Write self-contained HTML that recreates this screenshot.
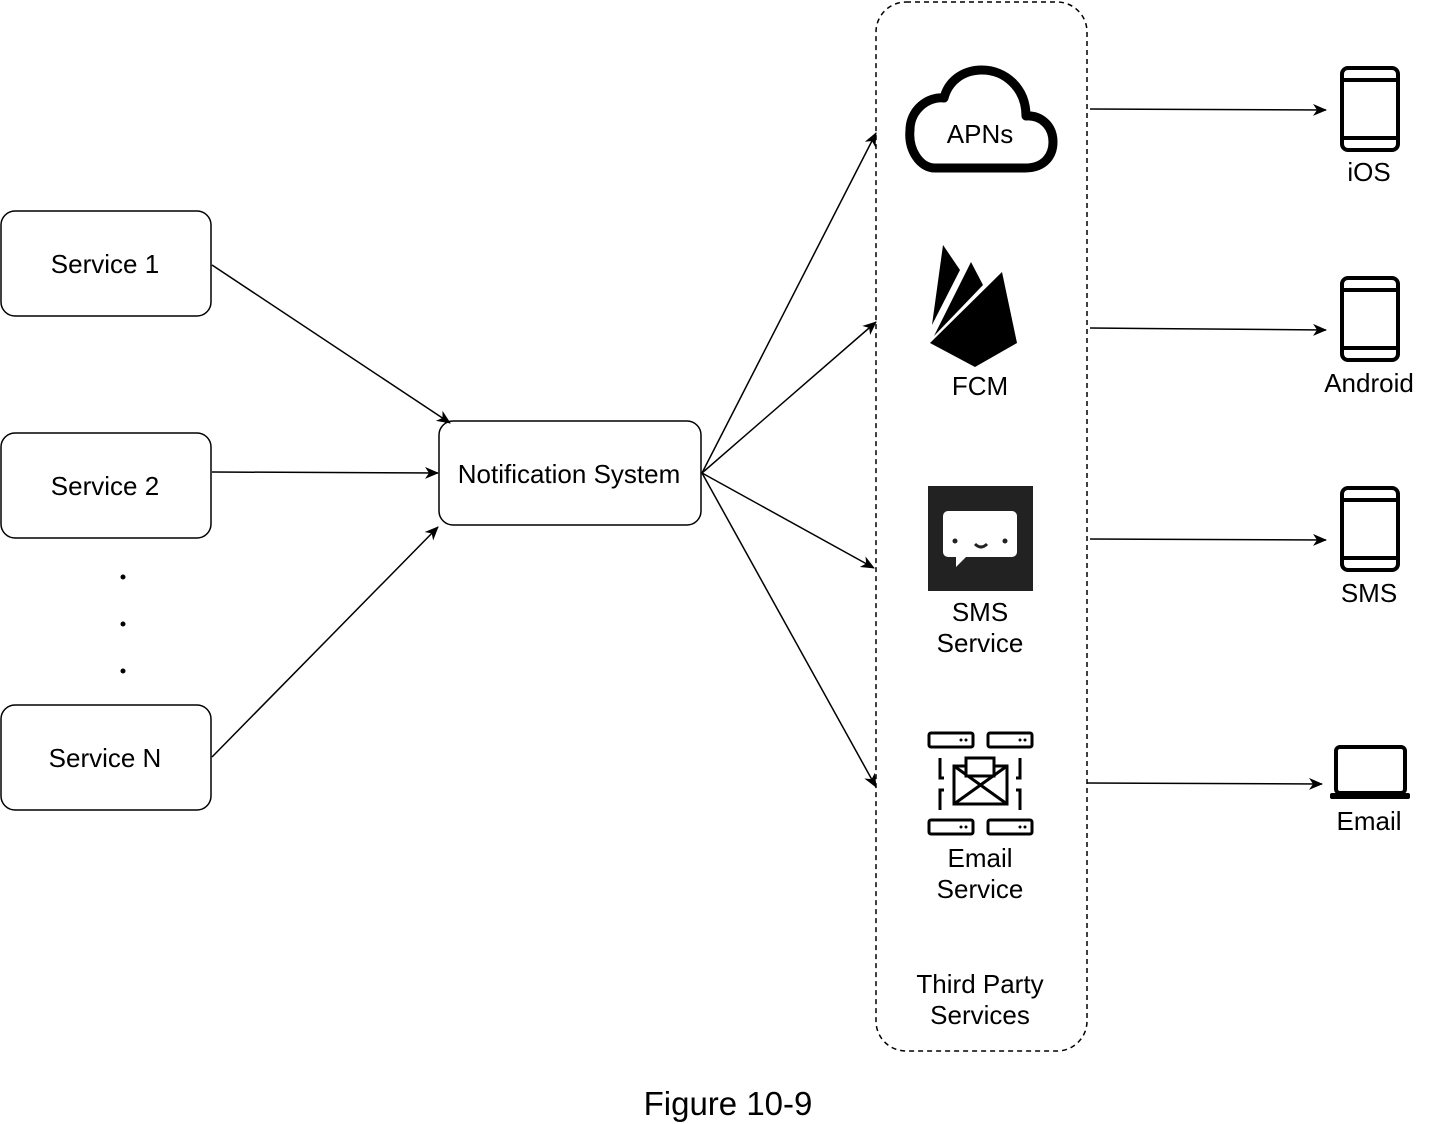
<!DOCTYPE html>
<html><head><meta charset="utf-8"><style>body{margin:0;background:#fff}svg{display:block}text{font-family:"Liberation Sans",Arial,sans-serif;fill:#000}</style></head><body>
<svg width="1429" height="1124" viewBox="0 0 1429 1124" xmlns="http://www.w3.org/2000/svg">
<defs><marker id="a" markerWidth="14" markerHeight="12" refX="13" refY="6" orient="auto" markerUnits="userSpaceOnUse"><path d="M0,0 L14,6 L0,12 L4,6 Z" fill="#000"/></marker></defs>
<g fill="none" stroke="#000" stroke-width="1.5">
<rect x="1" y="211" width="210" height="105" rx="14"/>
<rect x="1" y="433" width="210" height="105" rx="14"/>
<rect x="1" y="705" width="210" height="105" rx="14"/>
<rect x="439" y="421" width="262" height="104" rx="14"/>
<rect x="876" y="2" width="211" height="1049" rx="30" stroke-dasharray="5,4"/>
<line x1="212" y1="265" x2="450" y2="423" marker-end="url(#a)"/>
<line x1="212" y1="472" x2="438" y2="473" marker-end="url(#a)"/>
<line x1="212" y1="757" x2="438" y2="527" marker-end="url(#a)"/>
<line x1="702" y1="473" x2="876" y2="133" marker-end="url(#a)"/>
<line x1="702" y1="473" x2="876" y2="322" marker-end="url(#a)"/>
<line x1="702" y1="473" x2="874" y2="568" marker-end="url(#a)"/>
<line x1="702" y1="473" x2="876" y2="787" marker-end="url(#a)"/>
<line x1="1090" y1="109" x2="1326" y2="110" marker-end="url(#a)"/>
<line x1="1090" y1="328" x2="1326" y2="330" marker-end="url(#a)"/>
<line x1="1090" y1="539" x2="1326" y2="540" marker-end="url(#a)"/>
<line x1="1087" y1="783" x2="1322" y2="784" marker-end="url(#a)"/>
</g>
<g font-size="26" text-anchor="middle">
<text x="105" y="273">Service 1</text>
<text x="105" y="495">Service 2</text>
<text x="105" y="767">Service N</text>
<text x="569" y="483">Notification System</text>
<text x="980" y="143">APNs</text>
<text x="980" y="395">FCM</text>
<text x="980" y="621">SMS</text>
<text x="980" y="652">Service</text>
<text x="980" y="867">Email</text>
<text x="980" y="898">Service</text>
<text x="980" y="993">Third Party</text>
<text x="980" y="1024">Services</text>
<text x="1369" y="181">iOS</text>
<text x="1369" y="392">Android</text>
<text x="1369" y="602">SMS</text>
<text x="1369" y="830">Email</text>
<text x="728" y="1115" font-size="33">Figure 10-9</text>
</g>
<g fill="#000"><circle cx="123" cy="577" r="2.5"/><circle cx="123" cy="624" r="2.5"/><circle cx="123" cy="671" r="2.5"/></g>
<path d="M935,168 L1025,168 C1045,168 1053,155 1053,142 C1053,125 1040,115 1026,116 C1026,88 1005,70 982,70 C962,70 948,82 944,98 C928,96 910,110 910,130 C908,150 920,168 935,168 Z" fill="none" stroke="#000" stroke-width="9" stroke-linejoin="round"/>
<path d="M943,245 L960,270 L932,325 Z" fill="#000"/>
<path d="M971,262 L983,285 L934,336 Z" fill="#000"/>
<path d="M1002,272 L1017,343 L975,367 L930,343 Z" fill="#000"/>
<rect x="928" y="486" width="105" height="105" fill="#222"/>
<path d="M948,511 h64 a5,5 0 0 1 5,5 v36 a5,5 0 0 1 -5,5 h-46 l-10,10 v-10 h-8 a5,5 0 0 1 -5,-5 v-36 a5,5 0 0 1 5,-5 Z" fill="#fff"/>
<circle cx="955" cy="541" r="2.5" fill="#222"/><circle cx="1005" cy="541" r="2.5" fill="#222"/>
<path d="M975,544 q6,6 12,0" stroke="#222" stroke-width="3" fill="none"/>
<g fill="none" stroke="#000" stroke-width="3">
<rect x="929" y="733" width="44" height="14" rx="2"/><rect x="988" y="733" width="44" height="14" rx="2"/>
<rect x="929" y="820" width="44" height="14" rx="2"/><rect x="988" y="820" width="44" height="14" rx="2"/>
<rect x="954" y="766" width="53" height="38"/><path d="M954,766 L1007,804 M1007,766 L954,804"/>
<rect x="966" y="758" width="28" height="18" fill="#fff"/>
<path d="M944,778 h-4 v-20 M944,790 h-4 v20 M1016,778 h4 v-20 M1016,790 h4 v20"/>
</g>
<g fill="#000"><circle cx="961" cy="740" r="1.5"/><circle cx="966" cy="740" r="1.5"/><circle cx="1020" cy="740" r="1.5"/><circle cx="1025" cy="740" r="1.5"/><circle cx="961" cy="827" r="1.5"/><circle cx="966" cy="827" r="1.5"/><circle cx="1020" cy="827" r="1.5"/><circle cx="1025" cy="827" r="1.5"/></g>
<g fill="none" stroke="#000" stroke-width="4">
<rect x="1342" y="68" width="56" height="82" rx="6"/><line x1="1342" y1="80" x2="1398" y2="80"/><line x1="1342" y1="138" x2="1398" y2="138"/>
<rect x="1342" y="278" width="56" height="82" rx="6"/><line x1="1342" y1="290" x2="1398" y2="290"/><line x1="1342" y1="348" x2="1398" y2="348"/>
<rect x="1342" y="488" width="56" height="82" rx="6"/><line x1="1342" y1="500" x2="1398" y2="500"/><line x1="1342" y1="558" x2="1398" y2="558"/>
<rect x="1336" y="747" width="69" height="46" rx="4"/>
</g>
<rect x="1330" y="793" width="80" height="6" rx="2" fill="#000"/>
</svg>
</body></html>
